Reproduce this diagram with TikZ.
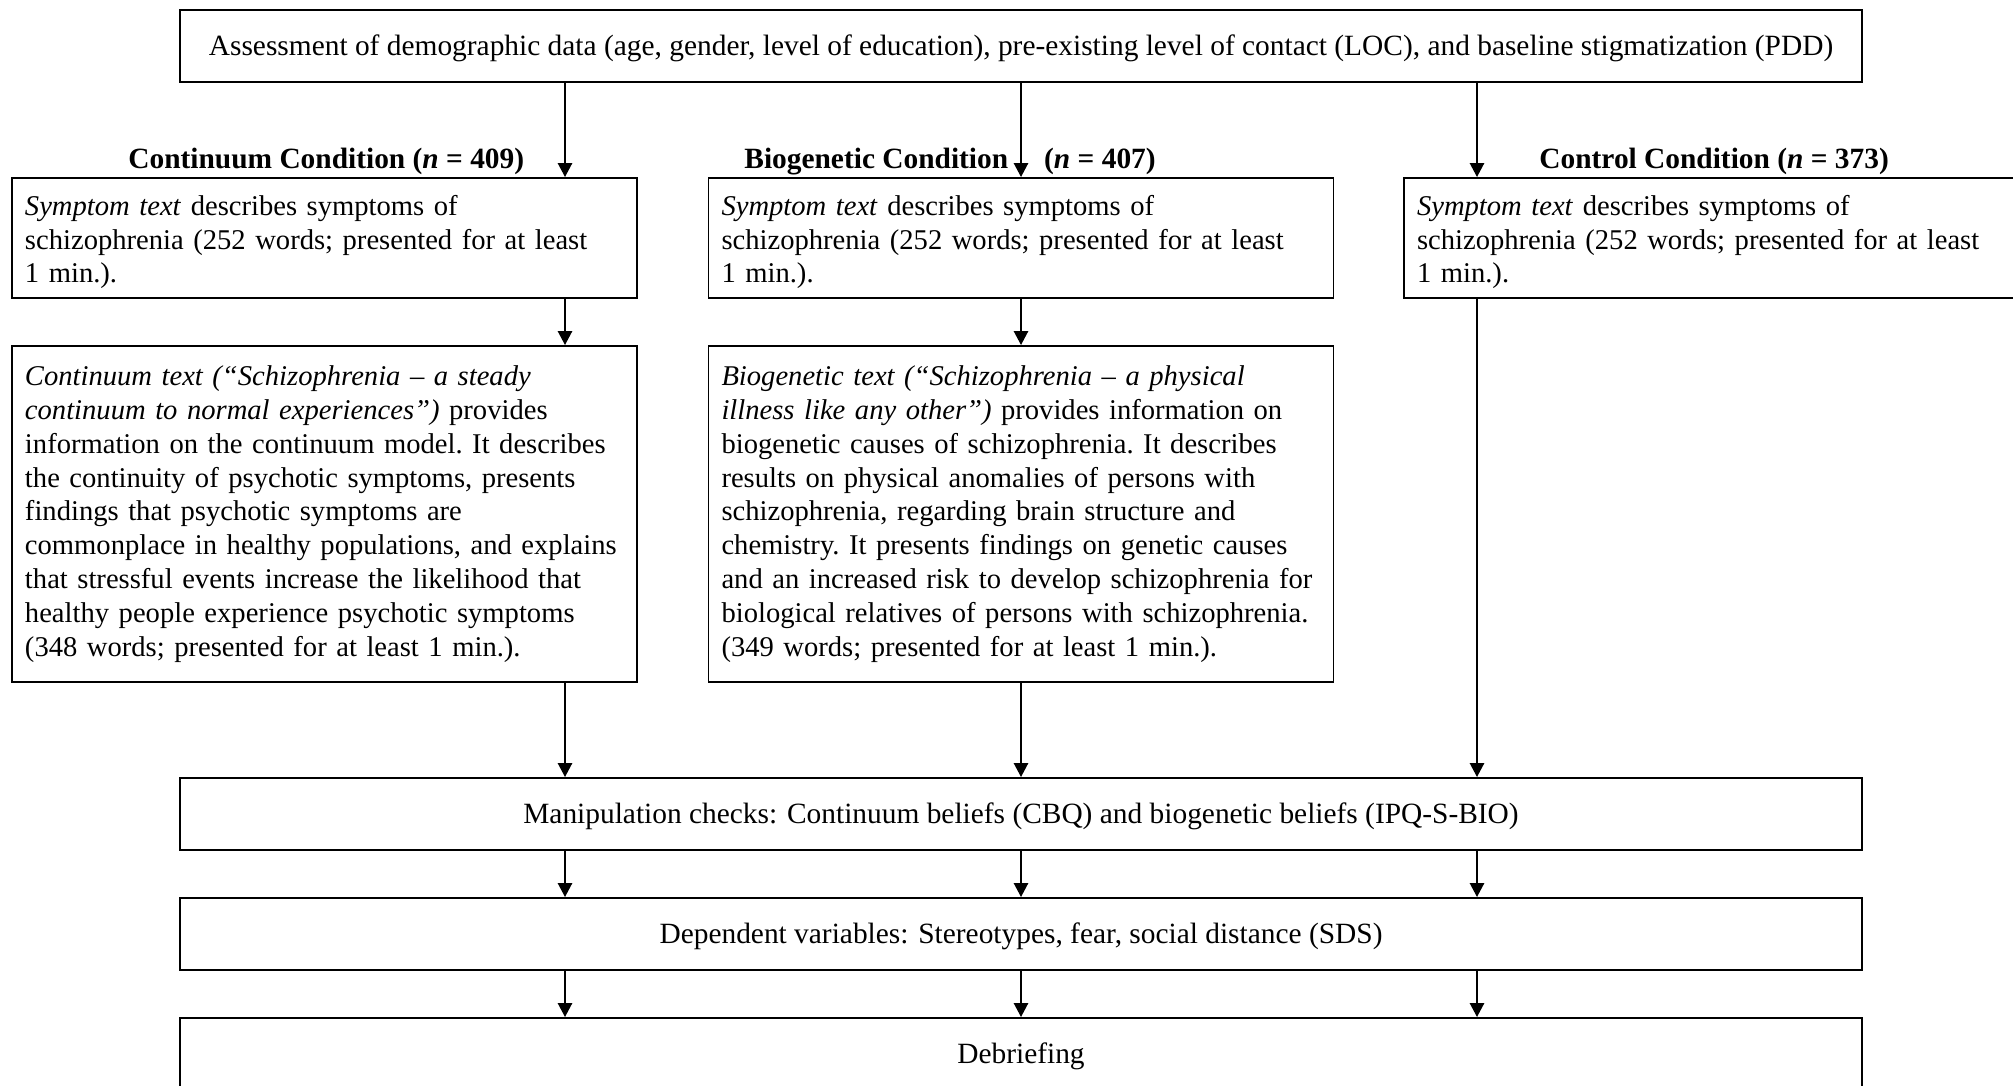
\documentclass[tikz,border=0pt]{standalone}
\usepackage{fontspec}
\setmainfont{Liberation Serif}
\usetikzlibrary{arrows.meta}
\newcommand{\myfs}{\fontsize{14.7pt}{16.9pt}\selectfont}
\newcommand{\boxfs}{\fontsize{14.3pt}{16.9pt}\selectfont\frenchspacing}
\newcommand{\firststrut}{\rule{0pt}{14.2pt}}
\tikzset{
  widebox/.style={draw, line width=0.9pt, inner sep=0pt, minimum width=841pt, minimum height=36pt, text height=12.8pt, text depth=3.2pt, font=\myfs},
  textbox/.style={draw, line width=0.9pt, inner xsep=6.5pt, inner ysep=0pt, text width=299.5pt, minimum height=#1, align=left, font=\boxfs},
  condlabel/.style={anchor=base west, inner sep=0pt, font=\myfs\bfseries},
  flowarrow/.style={line width=1.3pt, -{Triangle[width=7pt,length=7pt]}},
}
\begin{document}
\begin{tikzpicture}[x=0.5pt, y=-0.5pt]
\useasboundingbox (0,0) rectangle (2013,1086);
\coordinate (a1) at (565,0);
\coordinate (a2) at (1021,0);
\coordinate (a3) at (1477,0);

\node[widebox] (top) at (1021,46) {Assessment of demographic data (age, gender, level of education), pre-existing level of contact (LOC), and baseline stigmatization (PDD)};

\node[condlabel] (lab1) at (128,168.5) {Continuum Condition (\textit{n} = 409)};
\node[condlabel] (lab2) at (744,168.5) {Biogenetic Condition\hspace{18pt}(\textit{n} = 407)};
\node[condlabel] (lab3) at (1539,168.5) {Control Condition (\textit{n} = 373)};

\node[textbox=60pt] (sym1) at (324.5,238) {\firststrut\mbox{\textit{Symptom text} describes symptoms of}\\\mbox{schizophrenia (252 words; presented for at least}\\\mbox{1 min.).}};
\node[textbox=60pt] (sym2) at (1021,238) {\firststrut\mbox{\textit{Symptom text} describes symptoms of}\\\mbox{schizophrenia (252 words; presented for at least}\\\mbox{1 min.).}};
\node[textbox=60pt] (sym3) at (1716.5,238) {\firststrut\mbox{\textit{Symptom text} describes symptoms of}\\\mbox{schizophrenia (252 words; presented for at least}\\\mbox{1 min.).}};

\node[textbox=168pt] (cont) at (324.5,514) {\mbox{\textit{Continuum text (“Schizophrenia – a steady}}\\
\mbox{\textit{continuum to normal experiences”)} provides}\\
\mbox{information on the continuum model. It describes}\\
\mbox{the continuity of psychotic symptoms, presents}\\
\mbox{findings that psychotic symptoms are}\\
\mbox{commonplace in healthy populations, and explains}\\
\mbox{that stressful events increase the likelihood that}\\
\mbox{healthy people experience psychotic symptoms}\\
\mbox{(348 words; presented for at least 1 min.).}};

\node[textbox=168pt] (bio) at (1021,514) {\mbox{\textit{Biogenetic text (“Schizophrenia – a physical}}\\
\mbox{\textit{illness like any other”)} provides information on}\\
\mbox{biogenetic causes of schizophrenia. It describes}\\
\mbox{results on physical anomalies of persons with}\\
\mbox{schizophrenia, regarding brain structure and}\\
\mbox{chemistry. It presents findings on genetic causes}\\
\mbox{and an increased risk to develop schizophrenia for}\\
\mbox{biological relatives of persons with schizophrenia.}\\
\mbox{(349 words; presented for at least 1 min.).}};

\node[widebox] (manip) at (1021,814) {Manipulation checks: Continuum beliefs (CBQ) and biogenetic beliefs (IPQ-S-BIO)};
\node[widebox] (dep) at (1021,934) {Dependent variables: Stereotypes, fear, social distance (SDS)};
\node[widebox] (deb) at (1021,1054) {Debriefing};

\draw[flowarrow] (top.south -| a1) -- (sym1.north -| a1);
\draw[flowarrow] (top.south -| a2) -- (sym2.north -| a2);
\draw[flowarrow] (top.south -| a3) -- (sym3.north -| a3);
\draw[flowarrow] (sym1.south -| a1) -- (cont.north -| a1);
\draw[flowarrow] (sym2.south -| a2) -- (bio.north -| a2);
\draw[flowarrow] (cont.south -| a1) -- (manip.north -| a1);
\draw[flowarrow] (bio.south -| a2) -- (manip.north -| a2);
\draw[flowarrow] (sym3.south -| a3) -- (manip.north -| a3);
\foreach \c in {a1,a2,a3} {
  \draw[flowarrow] (manip.south -| \c) -- (dep.north -| \c);
  \draw[flowarrow] (dep.south -| \c) -- (deb.north -| \c);
}
\end{tikzpicture}
\end{document}
